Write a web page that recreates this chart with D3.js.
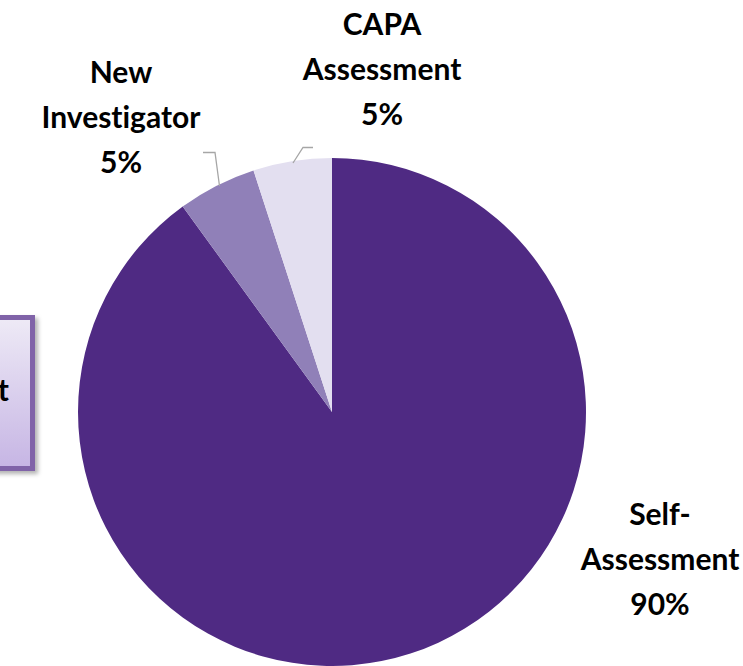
<!DOCTYPE html>
<html><head><meta charset="utf-8">
<script src="https://cdn.jsdelivr.net/npm/d3@7"></script>
<style>html,body{margin:0;padding:0;background:#fff;overflow:hidden} text{font-variant-ligatures:none;font-feature-settings:"liga" 0}</style>
</head><body>
<svg id="c" width="743" height="666"></svg>
<script>
const categories = ["Self-Assessment", "New Investigator", "CAPA Assessment"];
const values = [90, 5, 5];
const labelLines = [["Self-", "Assessment", "90%"], ["New", "Investigator", "5%"], ["CAPA", "Assessment", "5%"]];
const colors = ["#4f2a83", "#9080b8", "#e3dff0"];

const svg = d3.select("#c");
const cx = 332, cy = 412, R = 254;
const font = "Lato, 'Open Sans', sans-serif";

// clipped legend-like box at left
const defs = svg.append("defs");
const grad = defs.append("linearGradient").attr("id", "bg").attr("x1", 0).attr("y1", 0).attr("x2", 0).attr("y2", 1);
grad.append("stop").attr("offset", "0%").attr("stop-color", "#eeeaf6");
grad.append("stop").attr("offset", "100%").attr("stop-color", "#c6b5e4");
const f = defs.append("filter").attr("id", "sh").attr("x", "-20%").attr("y", "-20%").attr("width", "150%").attr("height", "150%");
f.append("feDropShadow").attr("dx", 3).attr("dy", 3).attr("stdDeviation", 2).attr("flood-color", "#000").attr("flood-opacity", 0.3);
svg.append("rect").attr("x", -60).attr("y", 317.5).attr("width", 92.5).attr("height", 151)
  .attr("fill", "url(#bg)").attr("stroke", "#8064a8").attr("stroke-width", 5).attr("filter", "url(#sh)");
svg.append("text").attr("x", 9).attr("y", 401).attr("text-anchor", "end")
  .attr("font-family", font).attr("font-weight", "bold").attr("font-size", 30).attr("fill", "#000").text("Assessment");

const pie = d3.pie().sort(null).value(d => d)(values);
const arc = d3.arc().innerRadius(0).outerRadius(R);
const g = svg.append("g").attr("transform", `translate(${cx},${cy})`);
g.selectAll("path").data(pie).join("path").attr("d", arc).attr("fill", (d, i) => colors[i]);

// leader lines
const leaders = [
  null,
  [[203, 152.5], [215, 152.5], [219.5, 186]],
  [[313, 147.5], [303, 147.5], [293, 163]]
];
leaders.forEach(p => {
  if (!p) return;
  svg.append("path").attr("d", d3.line()(p)).attr("fill", "none").attr("stroke", "#a6a6a6").attr("stroke-width", 1.3);
});

const labelPos = [[660, 525], [121, 83], [382, 35]];
const lh = 45;
labelLines.forEach((lines, i) => {
  const t = svg.append("text").attr("text-anchor", "middle").attr("font-family", font)
    .attr("font-weight", "bold").attr("font-size", 30).attr("fill", "#000");
  lines.forEach((s, j) => t.append("tspan").attr("x", labelPos[i][0]).attr("y", labelPos[i][1] + j * lh).text(s));
});
</script>
</body></html>
